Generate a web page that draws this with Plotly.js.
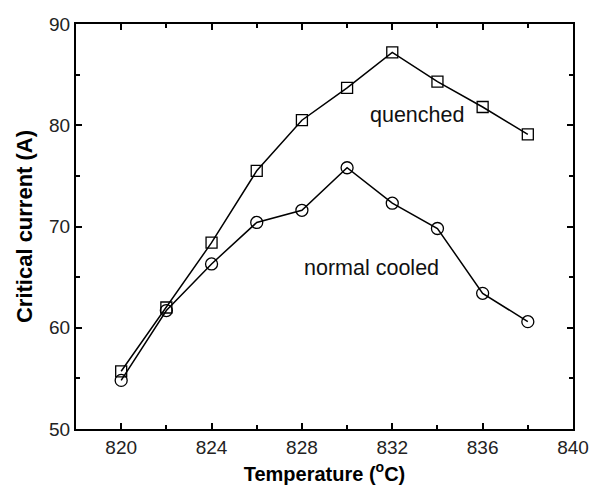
<!DOCTYPE html>
<html><head><meta charset="utf-8">
<script src="https://cdn.plot.ly/plotly-3.0.1.min.js"></script>
<style>body{margin:0;background:#fff}#c{width:590px;height:488px}</style>
</head><body><div id="c"></div>
<script>
const temperature = [820, 822, 824, 826, 828, 830, 832, 834, 836, 838];
const quenched = [55.7, 62.0, 68.4, 75.5, 80.5, 83.7, 87.2, 84.3, 81.8, 79.1];
const normalCooled = [54.8, 61.7, 66.3, 70.4, 71.6, 75.8, 72.3, 69.8, 63.4, 60.6];
const labels = [
  {text: "quenched", x: 833.1, y: 81.0},
  {text: "normal cooled", x: 831.1, y: 65.9}
];

const FONT = "Arial, 'Liberation Sans', sans-serif";
const lineStyle = {color: "#000", width: 1.5};
const traces = [
  {x: temperature, y: quenched, mode: "lines+markers", line: lineStyle,
   marker: {symbol: "square-open", size: 11, color: "#000", line: {width: 1.3}}},
  {x: temperature, y: normalCooled, mode: "lines+markers", line: lineStyle,
   marker: {symbol: "circle-open", size: 12, color: "#000", line: {width: 1.3}}}
];

const axisCommon = {
  showgrid: false, zeroline: false, showline: true, linecolor: "#000", linewidth: 2,
  mirror: "ticks", ticks: "inside", ticklen: 6, tickwidth: 2, tickcolor: "#000",
  tickfont: {family: FONT, size: 19, color: "#222"}
};

const layout = {
  width: 590, height: 488,
  margin: {l: 76, r: 17, t: 24, b: 59},
  paper_bgcolor: "#fff", plot_bgcolor: "#fff",
  showlegend: false,
  xaxis: Object.assign({}, axisCommon, {
    range: [818, 840], tickvals: [820, 824, 828, 832, 836, 840],
    minor: {tickvals: [822, 826, 830, 834, 838], ticks: "inside", ticklen: 4, tickwidth: 2, tickcolor: "#000"},
    title: {text: "Temperature (<sup>o</sup>C)", standoff: 10,
      font: {family: FONT, size: 20, color: "#000", weight: "bold"}}
  }),
  yaxis: Object.assign({}, axisCommon, {
    range: [50, 90], tickvals: [50, 60, 70, 80, 90],
    minor: {tickvals: [55, 65, 75, 85], ticks: "inside", ticklen: 4, tickwidth: 2, tickcolor: "#000"},
    title: {text: "Critical current (A)", standoff: 10,
      font: {family: FONT, size: 22, color: "#000", weight: "bold"}}
  }),
  annotations: labels.map(l => ({
    text: l.text, x: l.x, y: l.y, xref: "x", yref: "y", showarrow: false,
    font: {family: FONT, size: 21.5, color: "#111"}
  }))
};

Plotly.newPlot("c", traces, layout, {displayModeBar: false, staticPlot: true});
</script></body></html>
